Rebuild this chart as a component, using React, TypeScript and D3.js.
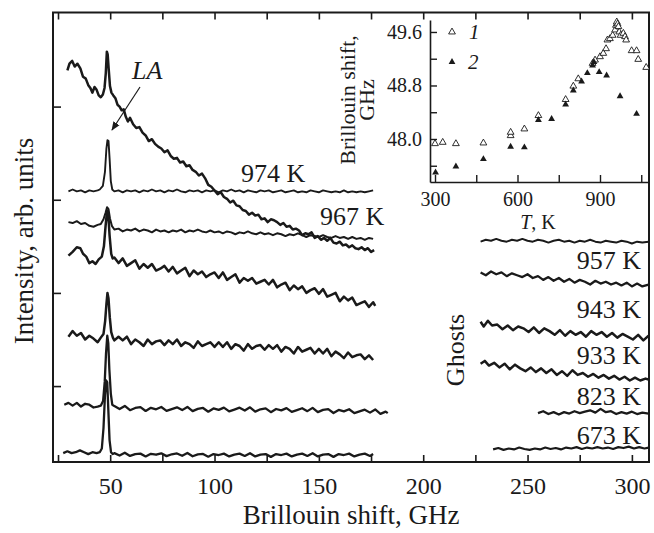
import React, { useEffect, useRef } from 'react';
import * as d3 from 'd3';

type Pt = [number, number];

// Brillouin spectra: [shift, GHz ; intensity, arb. units]
const specTop: Pt[] = [
  [29.5, 33.9], [30.5, 34.6], [31.8, 34.9], [33, 34.3], [34.3, 34.6], [35.7, 34.1], [37, 33.2], [38.3, 33.0],
  [39.5, 32.3], [40.5, 32.0], [41.5, 31.5], [42.5, 32.1], [43.5, 31.8], [44.5, 31.2], [45.5, 31.0], [46.5, 31.3],
  [47.3, 32.0], [47.9, 33.6], [48.4, 35.9], [48.8, 35.6], [49.3, 34.0], [49.9, 32.2], [50.6, 31.5], [51.5, 31.2],
  [52.5, 30.9], [53.5, 30.2], [54.5, 30.0], [55.5, 29.6], [56.5, 29.7], [57.5, 28.9], [58.5, 28.4], [59.5, 28.8],
  [61, 28.1], [62.5, 27.7], [64, 27.8], [65.5, 27.2], [67, 26.9], [68.5, 26.3], [70, 26.5], [71.5, 26.0],
  [73, 25.7], [74.5, 25.5], [76, 25.1], [77.5, 25.3], [79, 24.7], [80.5, 24.4], [82, 24.5], [83.5, 24.0],
  [85, 24.1], [86.5, 23.6], [88, 23.7], [89.5, 23.2], [91, 23.0], [92.5, 22.6], [94, 22.8], [95.5, 22.3],
  [97, 21.6], [98.5, 21.4], [100, 21.0], [101.5, 20.6], [103, 20.8], [104.5, 20.3], [106, 20.1], [107.5, 19.7],
  [109, 19.9], [110.5, 19.4], [112, 19.3], [113.5, 18.9], [115, 18.8], [116.5, 18.4], [118, 18.6], [119.5, 18.3],
  [121, 18.4], [122.5, 17.9], [124, 18.0], [125.5, 17.6], [127, 17.9], [128.5, 17.8], [130, 17.6], [131.5, 17.3],
  [133, 17.5], [134.5, 17.1], [136, 17.2], [137.5, 16.8], [139, 16.9], [140.5, 16.7], [142, 16.2], [143.5, 16.4],
  [145, 16.3], [146.5, 16.5], [148, 15.9], [149.5, 16.1], [151, 15.7], [152.5, 15.9], [154, 15.6], [155.5, 15.9],
  [157, 15.4], [158.5, 15.3], [160, 15.5], [161.5, 15.1], [163, 15.2], [164.5, 14.9], [166, 15.1], [167.5, 14.8],
  [169, 14.7], [170.5, 14.9], [172, 14.6], [173.5, 14.8], [175, 14.4], [176.5, 14.6],
];

const spec974: Pt[] = [
  [30, 20.9], [32, 21.1], [34, 20.9], [36, 21.0], [38, 20.8], [40, 21.0], [42, 20.9], [44, 21.0], [45, 21.1],
  [46.5, 21.5], [47.5, 23.0], [48.2, 25.5], [48.7, 26.4], [49.2, 26.3], [49.7, 24.5], [50.3, 22.0], [51, 21.1],
  [52, 20.9], [54, 21.0], [56, 20.8], [58, 21.0], [60, 20.9], [62, 21.0], [64, 20.8], [66, 21.0], [68, 20.9],
  [70, 21.1], [72, 20.9], [74, 21.0], [76, 20.8], [78, 21.0], [80, 20.9], [82, 21.1], [84, 20.9], [86, 20.8],
  [88, 21.0], [90, 20.9], [92, 21.0], [94, 20.8], [96, 21.0], [98, 20.9], [100, 21.0], [102, 20.8], [104, 21.0],
  [106, 20.9], [108, 21.1], [110, 20.9], [112, 21.0], [114, 20.8], [116, 21.0], [118, 20.9], [120, 20.8],
  [122, 21.0], [124, 20.9], [126, 21.0], [128, 20.8], [130, 20.9], [132, 21.0], [134, 20.8], [136, 20.9],
  [138, 21.0], [140, 20.8], [142, 20.9], [144, 20.8], [146, 21.0], [148, 20.9], [150, 20.8], [152, 21.0],
  [154, 20.9], [156, 20.8], [158, 20.9], [160, 20.8], [162, 21.0], [164, 20.8], [166, 20.9], [168, 20.8],
  [170, 20.9], [172, 20.8], [174, 20.9], [176, 21.0],
];

const spec967: Pt[] = [
  [30, 17.6], [32, 17.5], [34, 17.7], [36, 17.4], [38, 17.5], [40, 17.2], [42, 17.1], [44, 17.3], [45.5, 17.4],
  [46.8, 17.9], [47.8, 18.6], [48.5, 19.2], [49.2, 19.0], [49.9, 18.0], [50.8, 17.2], [52, 16.8], [54, 16.9],
  [56, 16.6], [58, 16.8], [60, 16.7], [62, 16.9], [64, 16.6], [66, 16.8], [68, 16.7], [70, 16.5], [72, 16.8],
  [74, 16.6], [76, 16.7], [78, 16.5], [80, 16.7], [82, 16.6], [84, 16.8], [86, 16.5], [88, 16.7], [90, 16.6],
  [92, 16.8], [94, 16.6], [96, 16.5], [98, 16.7], [100, 16.5], [102, 16.6], [104, 16.4], [106, 16.6], [108, 16.5],
  [110, 16.3], [112, 16.5], [114, 16.4], [116, 16.6], [118, 16.4], [120, 16.3], [122, 16.5], [124, 16.3],
  [126, 16.4], [128, 16.2], [130, 16.4], [132, 16.3], [134, 16.1], [136, 16.3], [138, 16.2], [140, 16.4],
  [142, 16.2], [144, 16.0], [146, 16.2], [148, 16.1], [150, 16.0], [152, 16.2], [154, 16.0], [156, 15.9],
  [158, 16.1], [160, 15.9], [162, 16.0], [164, 15.8], [166, 16.0], [168, 15.8], [170, 15.9], [172, 15.7],
  [174, 15.9], [176, 15.8],
];

const spec957: Pt[] = [
  [30, 14.0], [32, 14.4], [34, 14.9], [35.7, 14.8], [37, 14.2], [38.5, 13.9], [40, 13.2], [41.5, 13.4], [43, 13.1],
  [44.5, 13.6], [46, 13.9], [47, 15.0], [47.8, 17.2], [48.5, 18.8], [49.1, 18.4], [49.7, 16.2], [50.5, 14.2],
  [51.2, 13.7], [52, 13.8], [54, 13.2], [56, 13.7], [58, 12.9], [60, 13.2], [62, 13.5], [64, 12.6], [66, 13.1],
  [68, 12.7], [70, 13.1], [72, 12.4], [74, 12.6], [76, 12.9], [78, 12.3], [80, 12.8], [82, 12.1], [84, 12.4],
  [86, 12.7], [88, 11.8], [90, 12.4], [92, 12.0], [94, 12.3], [96, 11.7], [98, 12.0], [100, 12.2], [102, 11.6],
  [104, 12.2], [106, 11.4], [108, 11.7], [110, 12.0], [112, 11.1], [114, 11.6], [116, 11.3], [118, 11.6],
  [120, 11.0], [122, 11.2], [124, 11.4], [126, 10.9], [128, 11.4], [130, 10.6], [132, 10.9], [134, 11.1],
  [136, 10.3], [138, 10.8], [140, 10.4], [142, 10.7], [144, 10.0], [146, 10.3], [148, 10.5], [150, 9.9],
  [152, 10.4], [154, 9.6], [156, 9.8], [158, 10.0], [160, 9.1], [162, 9.6], [164, 9.2], [166, 9.5], [168, 8.7],
  [170, 8.9], [172, 9.1], [174, 8.5], [176, 9.0], [177, 8.6],
];

const spec943: Pt[] = [
  [30, 5.3], [32, 5.9], [34, 5.4], [36, 5.7], [38, 5.0], [40, 5.4], [42, 5.1], [44, 4.7], [45.5, 5.2], [46.8, 5.6],
  [47.6, 7.0], [48.2, 8.8], [48.7, 10.0], [49.2, 9.4], [49.8, 7.4], [50.5, 5.8], [51.3, 5.2], [52, 4.9], [54, 5.3],
  [56, 4.9], [58, 5.3], [60, 4.5], [62, 5.0], [64, 4.7], [66, 4.3], [68, 5.0], [70, 4.5], [72, 4.8], [74, 4.9],
  [76, 4.4], [78, 4.9], [80, 4.5], [82, 5.0], [84, 4.3], [86, 4.7], [88, 4.5], [90, 4.1], [92, 4.8], [94, 4.3],
  [96, 4.5], [98, 4.7], [100, 4.2], [102, 4.7], [104, 4.2], [106, 4.7], [108, 4.0], [110, 4.5], [112, 4.3],
  [114, 3.8], [116, 4.5], [118, 4.0], [120, 4.3], [122, 4.4], [124, 3.9], [126, 4.4], [128, 4.0], [130, 4.4],
  [132, 3.7], [134, 4.2], [136, 4.0], [138, 3.5], [140, 4.2], [142, 3.7], [144, 3.9], [146, 4.1], [148, 3.5],
  [150, 4.0], [152, 3.5], [154, 4.0], [156, 3.2], [158, 3.7], [160, 3.4], [162, 3.0], [164, 3.6], [166, 3.1],
  [168, 3.3], [170, 3.4], [172, 2.9], [174, 3.3], [176, 2.8],
];

const spec933: Pt[] = [
  [28, -2.0], [30, -1.8], [32, -2.1], [34, -1.8], [36, -2.2], [38, -1.9], [40, -2.0], [42, -2.3], [44, -2.2],
  [45.5, -2.1], [46.6, -1.6], [47.4, 0.5], [48.0, 3.5], [48.6, 5.4], [49.1, 4.6], [49.6, 1.8], [50.3, -0.8],
  [51, -2.0], [52, -2.15], [54.5, -2.46], [57, -2.13], [59.5, -2.59], [62, -2.35], [64.5, -2.26], [67, -2.67],
  [69.5, -2.33], [72, -2.49], [74.5, -2.25], [77, -2.66], [79.5, -2.47], [82, -2.28], [84.5, -2.58], [87, -2.24],
  [89.5, -2.69], [92, -2.45], [94.5, -2.35], [97, -2.75], [99.5, -2.4], [102, -2.55], [104.5, -2.31], [107, -2.71],
  [109.5, -2.52], [112, -2.32], [114.5, -2.63], [117, -2.28], [119.5, -2.74], [122, -2.49], [124.5, -2.4],
  [127, -2.8], [129.5, -2.46], [132, -2.61], [134.5, -2.37], [137, -2.77], [139.5, -2.58], [142, -2.38],
  [144.5, -2.69], [147, -2.34], [149.5, -2.8], [152, -2.56], [154.5, -2.48], [157, -2.89], [159.5, -2.56],
  [162, -2.72], [164.5, -2.49], [167, -2.9], [169.5, -2.72], [172, -2.53], [174.5, -2.85], [177, -2.51],
  [179.5, -2.98], [182, -2.74], [183, -2.9],
];

const spec823: Pt[] = [
  [27.5, -7.2], [29.5, -7.0], [31.5, -7.2], [33.5, -7.1], [35.5, -6.9], [37.5, -7.1], [39.5, -7.3], [41.5, -7.1],
  [43.5, -7.2], [45, -7.1], [46, -6.7], [46.8, -4.5], [47.5, -1.0], [48.1, 0.6], [48.6, 0.4], [49.1, -2.5],
  [49.7, -5.8], [50.4, -7.1], [51.2, -7.3], [52, -7.2], [54.5, -7.45], [57, -7.15], [59.5, -7.5], [62, -7.3],
  [64.5, -7.25], [67, -7.55], [69.5, -7.27], [72, -7.37], [74.5, -7.22], [77, -7.52], [79.5, -7.32], [82, -7.23],
  [84.5, -7.48], [87, -7.18], [89.5, -7.53], [92, -7.33], [94.5, -7.28], [97, -7.58], [99.5, -7.3], [102, -7.4],
  [104.5, -7.25], [107, -7.55], [109.5, -7.35], [112, -7.25], [114.5, -7.5], [117, -7.2], [119.5, -7.55],
  [122, -7.35], [124.5, -7.3], [127, -7.6], [129.5, -7.3], [132, -7.4], [134.5, -7.25], [137, -7.55],
  [139.5, -7.35], [142, -7.25], [144.5, -7.5], [147, -7.2], [149.5, -7.55], [152, -7.35], [154.5, -7.3],
  [157, -7.6], [159.5, -7.3], [162, -7.4], [164.5, -7.25], [167, -7.55], [169.5, -7.35], [172, -7.25],
  [174.5, -7.5], [176, -7.3],
];

// ghost region (right part)
const ghost967: Pt[] = [
  [227.5, 15.5], [230, 15.7], [232.5, 15.6], [235, 15.8], [237.5, 15.6], [240, 15.5], [242.5, 15.7], [245, 15.6],
  [247.5, 15.8], [250, 15.6], [252.5, 15.5], [255, 15.7], [257.5, 15.6], [260, 15.4], [262.5, 15.6], [265, 15.7],
  [267.5, 15.5], [270, 15.6], [272.5, 15.4], [275, 15.6], [277.5, 15.5], [280, 15.7], [282.5, 15.5], [285, 15.4],
  [287.5, 15.6], [290, 15.5], [292.5, 15.4], [295, 15.6], [297.5, 15.5], [300, 15.3], [302.5, 15.5], [305, 15.4],
  [308, 15.5],
];
const ghost957: Pt[] = [
  [227.5, 12.2], [230, 11.9], [232.5, 12.3], [235, 12.0], [237.5, 12.2], [240, 11.8], [242.5, 12.1], [245, 11.9],
  [247.5, 11.7], [250, 12.0], [252.5, 11.6], [255, 11.8], [257.5, 11.4], [260, 11.7], [262.5, 11.3], [265, 11.6],
  [267.5, 11.2], [270, 11.5], [272.5, 11.1], [275, 11.4], [277.5, 11.2], [280, 10.9], [282.5, 11.3], [285, 11.0],
  [287.5, 11.2], [290, 10.9], [292.5, 11.1], [295, 10.8], [297.5, 11.1], [300, 10.7], [302.5, 11.0], [305, 10.7],
  [308, 10.9],
];
const ghost943: Pt[] = [
  [227.5, 6.9], [229, 6.4], [231, 7.0], [233, 6.5], [235.5, 6.6], [238, 6.1], [240.5, 6.5], [243, 6.0], [245.5, 6.4],
  [248, 6.2], [250.5, 5.8], [253, 6.3], [255.5, 5.7], [258, 6.2], [260.5, 5.9], [263, 5.5], [265.5, 6.0], [268, 5.4],
  [270.5, 5.9], [273, 5.5], [275.5, 5.8], [278, 5.3], [280.5, 5.9], [283, 5.5], [285.5, 5.8], [288, 5.3], [290.5, 5.7],
  [293, 5.2], [295.5, 5.6], [298, 5.3], [300.5, 5.0], [303, 5.5], [305.5, 4.9], [308, 5.4],
];
const ghost933: Pt[] = [
  [227.5, 2.4], [229.5, 2.7], [231.5, 2.2], [234, 2.5], [236.5, 2.0], [239, 2.4], [241.5, 1.8], [244, 2.3],
  [246.5, 1.9], [249, 1.6], [251.5, 2.0], [254, 1.5], [256.5, 1.9], [259, 1.4], [261.5, 1.8], [264, 1.2],
  [266.5, 1.6], [269, 1.1], [271.5, 1.7], [274, 1.2], [276.5, 1.4], [279, 1.0], [281.5, 1.3], [284, 0.9],
  [286.5, 1.2], [289, 0.8], [291.5, 1.1], [294, 0.7], [296.5, 1.0], [299, 0.6], [301.5, 0.9], [304, 0.6],
  [306.5, 0.8], [308, 0.7],
];
const ghost823: Pt[] = [
  [255, -2.9], [257.5, -2.7], [260, -3.0], [262.5, -2.8], [265, -3.05], [267.5, -2.8], [270, -2.95], [272.5, -2.7],
  [275, -2.9], [277.5, -2.75], [280, -2.6], [282.5, -2.85], [285, -2.45], [287.5, -2.8], [290, -2.7], [292.5, -3.0],
  [295, -2.8], [297.5, -2.95], [300, -2.75], [302.5, -3.0], [305, -2.85], [308, -2.95],
];
const ghost673: Pt[] = [
  [233.5, -6.8], [236, -6.65], [238.5, -6.85], [241, -6.7], [243.5, -6.8], [246, -6.6], [248.5, -6.75], [251, -6.85],
  [253.5, -6.7], [256, -6.8], [258.5, -6.6], [261, -6.75], [263.5, -6.65], [266, -6.8], [268.5, -6.6], [271, -6.7],
  [273.5, -6.55], [276, -6.75], [278.5, -6.6], [281, -6.7], [283.5, -6.55], [286, -6.7], [288.5, -6.6], [291, -6.75],
  [293.5, -6.55], [296, -6.65], [298.5, -6.5], [301, -6.7], [303.5, -6.55], [306, -6.7], [308, -6.6],
];

// inset: [T, K ; Brillouin shift, GHz]
const inset1: Pt[] = [
  [300, 47.93], [328, 47.95], [376, 47.93], [476, 47.94], [575, 48.05], [575, 48.1], [625, 48.15], [676, 48.35],
  [775, 48.59], [803, 48.79], [821, 48.9], [873, 49.13], [882, 49.18], [900, 49.23], [912, 49.28], [922, 49.35],
  [927, 49.48], [936, 49.5], [946, 49.55], [955, 49.63], [958, 49.7], [961, 49.75], [964, 49.72], [967, 49.68],
  [970, 49.6], [975, 49.55], [985, 49.58], [991, 49.53], [995, 49.48], [1015, 49.32], [1033, 49.32],
  [1039, 49.19], [1068, 49.07],
];
const inset2: Pt[] = [
  [302, 47.5], [376, 47.59], [476, 47.7], [575, 47.885], [625, 47.875], [676, 48.285], [724, 48.3], [775, 48.515],
  [803, 48.725], [833, 48.86], [854, 48.985], [873, 49.1], [878, 49.15], [897, 49.0], [924, 48.95], [973, 48.64],
  [1033, 48.375],
];

const spectra: { pts: Pt[]; w: number }[] = [
  { pts: specTop, w: 2.5 }, { pts: spec974, w: 1.9 }, { pts: spec967, w: 2 }, { pts: spec957, w: 2.5 },
  { pts: spec943, w: 2.5 }, { pts: spec933, w: 2.3 }, { pts: spec823, w: 2.3 },
  { pts: ghost967, w: 2 }, { pts: ghost957, w: 2.3 }, { pts: ghost943, w: 2.5 }, { pts: ghost933, w: 2.5 },
  { pts: ghost823, w: 2.3 }, { pts: ghost673, w: 2.2 },
];

const ghostLabels = ['957 K', '943 K', '933 K', '823 K', '673 K'];
const ghostLabelY = [269, 318, 364, 405, 444];

const FONT = "'Liberation Serif', 'Times New Roman', serif";
const INK = '#1a1a1a';

const App = () => {
  const ref = useRef<SVGSVGElement>(null);

  useEffect(() => {
    const svg = d3.select(ref.current);
    svg.selectAll('*').remove();

    const m = { left: 53, right: 649, top: 12.5, bottom: 462 };
    const x = d3.scaleLinear().domain([22.6, 308.2]).range([m.left, m.right]);
    const y = d3.scaleLinear().domain([-8.15, 40.1]).range([m.bottom, m.top]);

    const defs = svg.append('defs');
    defs.append('clipPath').attr('id', 'plot')
      .append('rect').attr('x', m.left).attr('y', m.top)
      .attr('width', m.right - m.left).attr('height', m.bottom - m.top);
    defs.append('marker').attr('id', 'arr').attr('viewBox', '0 0 10 10')
      .attr('refX', 9).attr('refY', 5).attr('markerWidth', 9).attr('markerHeight', 9)
      .attr('markerUnits', 'userSpaceOnUse').attr('orient', 'auto')
      .append('path').attr('d', 'M0,1 L10,5 L0,9 Z').attr('fill', INK);

    const line = d3.line<Pt>().x(d => x(d[0])).y(d => y(d[1]));

    const traces = svg.append('g').attr('clip-path', 'url(#plot)');
    spectra.forEach(s => {
      traces.append('path').attr('d', line(s.pts))
        .attr('fill', 'none').attr('stroke', INK).attr('stroke-width', s.w)
        .attr('stroke-linejoin', 'round');
    });

    // frame and axes
    svg.append('rect').attr('x', m.left).attr('y', m.top)
      .attr('width', m.right - m.left).attr('height', m.bottom - m.top)
      .attr('fill', 'none').attr('stroke', INK).attr('stroke-width', 2);

    const ticks25 = d3.range(25, 301, 25);
    const xb = svg.append('g').attr('transform', `translate(0,${m.bottom})`)
      .call(d3.axisBottom(x).tickValues(ticks25).tickSizeInner(-7).tickSizeOuter(0).tickPadding(15)
        .tickFormat(d => (+d % 50 === 0 ? String(d) : '')));
    const xt = svg.append('g').attr('transform', `translate(0,${m.top})`)
      .call(d3.axisTop(x).tickValues(ticks25).tickSizeInner(-7).tickSizeOuter(0).tickFormat(() => ''));
    const yl = svg.append('g').attr('transform', `translate(${m.left},0)`)
      .call(d3.axisLeft(y).tickValues([0, 10, 20, 30]).tickSizeInner(-8).tickSizeOuter(0).tickFormat(() => ''));
    [xb, xt, yl].forEach(g => {
      g.select('.domain').remove();
      g.selectAll('line').attr('stroke', INK).attr('stroke-width', 1.6);
      g.selectAll('text').attr('font-family', FONT).attr('font-size', 24).attr('fill', INK);
    });

    svg.append('text').attr('x', (m.left + m.right) / 2).attr('y', 524)
      .attr('text-anchor', 'middle').attr('font-family', FONT).attr('font-size', 27).attr('fill', INK)
      .text('Brillouin shift, GHz');
    svg.append('text').attr('transform', 'translate(33,241) rotate(-90)')
      .attr('text-anchor', 'middle').attr('font-family', FONT).attr('font-size', 27).attr('fill', INK)
      .text('Intensity, arb. units');

    // curve labels
    const label = (tx: number, ty: number, s: string, anchor = 'start') =>
      svg.append('text').attr('x', tx).attr('y', ty).attr('text-anchor', anchor)
        .attr('font-family', FONT).attr('font-size', 26).attr('fill', INK).text(s);
    label(241, 182, '974 K');
    label(320, 225, '967 K');
    ghostLabels.forEach((s, i) => label(641, ghostLabelY[i], s, 'end'));
    label(132, 79, 'LA').attr('font-style', 'italic');
    svg.append('line').attr('x1', 140).attr('y1', 87).attr('x2', 112).attr('y2', 130)
      .attr('stroke', INK).attr('stroke-width', 1.2).attr('marker-end', 'url(#arr)');
    svg.append('text').attr('transform', 'translate(464,350) rotate(-90)')
      .attr('text-anchor', 'middle').attr('font-family', FONT).attr('font-size', 26).attr('fill', INK)
      .text('Ghosts');

    // inset
    const ix = d3.scaleLinear().domain([281.8, 1078.2]).range([430, 649]);
    const iy = d3.scaleLinear().domain([47.357, 49.779]).range([182, 20]);
    const ia = svg.append('g').attr('transform', 'translate(0,182)')
      .call(d3.axisBottom(ix).tickValues([300, 450, 600, 750, 900, 1050]).tickSizeInner(-7).tickSizeOuter(0)
        .tickPadding(10).tickFormat(d => (+d % 300 === 0 ? String(d) : '')));
    const ib = svg.append('g').attr('transform', 'translate(430,0)')
      .call(d3.axisLeft(iy).tickValues([47.6, 48.0, 48.4, 48.8, 49.2, 49.6]).tickSizeInner(-7).tickSizeOuter(0)
        .tickPadding(8).tickFormat(d => (Math.round(+d * 10) % 8 === 0 ? d3.format('.1f')(+d) : '')));
    [ia, ib].forEach(g => {
      g.select('.domain').attr('stroke', INK).attr('stroke-width', 1.6);
      g.selectAll('line').attr('stroke', INK).attr('stroke-width', 1.4);
      g.selectAll('text').attr('font-family', FONT).attr('font-size', 20).attr('fill', INK);
    });

    const tri = d3.symbol().type(d3.symbolTriangle).size(20);
    const marks = svg.append('g').attr('clip-path', 'url(#plot)');
    marks.selectAll('.p1').data(inset1).enter().append('path')
      .attr('transform', d => `translate(${ix(d[0])},${iy(d[1])})`).attr('d', tri())
      .attr('fill', '#fff').attr('stroke', INK).attr('stroke-width', 0.9);
    marks.selectAll('.p2').data(inset2).enter().append('path')
      .attr('transform', d => `translate(${ix(d[0])},${iy(d[1])})`).attr('d', tri())
      .attr('fill', INK);

    // legend
    svg.append('path').attr('transform', 'translate(452,32)').attr('d', tri())
      .attr('fill', '#fff').attr('stroke', INK).attr('stroke-width', 0.9);
    svg.append('path').attr('transform', 'translate(452,62)').attr('d', tri()).attr('fill', INK);
    label(469, 39, '1').attr('font-size', 21).attr('font-style', 'italic');
    label(468, 69, '2').attr('font-size', 21).attr('font-style', 'italic');

    const it = svg.append('text').attr('x', 538).attr('y', 229).attr('text-anchor', 'middle')
      .attr('font-family', FONT).attr('font-size', 20).attr('fill', INK);
    it.append('tspan').attr('font-style', 'italic').text('T');
    it.append('tspan').text(', K');

    svg.append('text').attr('transform', 'translate(355,100) rotate(-90)')
      .attr('text-anchor', 'middle').attr('font-family', FONT).attr('font-size', 22).attr('fill', INK)
      .text('Brillouin shift,');
    svg.append('text').attr('transform', 'translate(374,100) rotate(-90)')
      .attr('text-anchor', 'middle').attr('font-family', FONT).attr('font-size', 22).attr('fill', INK)
      .text('GHz');
  }, []);

  return (
    <svg ref={ref} width={654} height={533}
      style={{ position: 'absolute', left: 0, top: 0, background: '#fff' }} />
  );
};

export default App;
